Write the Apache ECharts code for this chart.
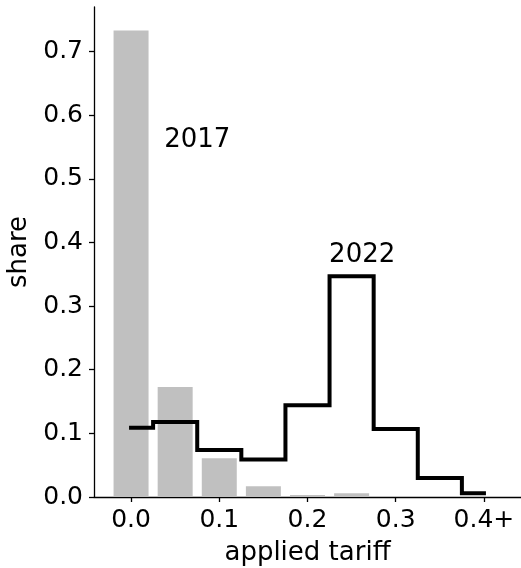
<!DOCTYPE html>
<html>
<head>
<meta charset="utf-8">
<script src="https://cdn.jsdelivr.net/npm/echarts@6/dist/echarts.min.js"></script>
<style>
html,body{margin:0;padding:0;background:#fff;}
#chart{width:521px;height:568px;}
</style>
</head>
<body>
<div id="chart"></div>
<script>
// tariff bins (0.4 = "0.4+")
const binCenters = [0, 0.05, 0.1, 0.15, 0.2, 0.25, 0.3, 0.35, 0.4];
const share2017 = [0.733, 0.173, 0.061, 0.017, 0.003, 0.006, 0, 0, 0];
const share2022 = [0.109, 0.118, 0.074, 0.059, 0.144, 0.347, 0.107, 0.030, 0.006];
const xTickValues = [0, 0.1, 0.2, 0.3, 0.4];
const xTickLabels = ['0.0', '0.1', '0.2', '0.3', '0.4+'];
const yTickValues = [0, 0.1, 0.2, 0.3, 0.4, 0.5, 0.6, 0.7];
const annotationTexts = ['2017', '2022'];
const annotationX = [0.0375, 0.2245];
const annotationY = [0.561, 0.380];

const FONT = 'DejaVu Sans';
const TICK_SIZE = 25;
const NAME_SIZE = 26;
const chart = echarts.init(document.getElementById('chart'), null, {renderer: 'canvas'});

const barData = binCenters.map((x, i) => [x, share2017[i]]);
const lineData = binCenters.map((x, i) => [x, share2022[i]]);

chart.setOption({
  animation: false,
  backgroundColor: '#ffffff',
  grid: {left: 94, right: 0, top: 7, bottom: 71, containLabel: false, outerBoundsMode: 'none'},
  xAxis: {
    type: 'value',
    min: -0.042,
    max: 0.442,
    name: 'applied tariff',
    nameLocation: 'middle',
    nameGap: 43,
    nameTextStyle: {fontFamily: FONT, fontSize: NAME_SIZE, color: '#000'},
    axisLine: {show: true, onZero: false, lineStyle: {color: '#000', width: 1.3}},
    axisTick: {show: true, length: 5, customValues: xTickValues, lineStyle: {color: '#000', width: 1.3}},
    axisLabel: {
      customValues: xTickValues,
      margin: 11,
      fontFamily: FONT, fontSize: TICK_SIZE, color: '#000',
      formatter: v => {
        const idx = xTickValues.findIndex(t => Math.abs(t - v) < 1e-9);
        return idx >= 0 ? xTickLabels[idx] : '';
      }
    },
    splitLine: {show: false}
  },
  yAxis: {
    type: 'value',
    min: 0,
    max: 0.77,
    name: 'share',
    nameLocation: 'middle',
    nameGap: 61,
    nameTextStyle: {fontFamily: FONT, fontSize: NAME_SIZE, color: '#000'},
    axisLine: {show: true, onZero: false, lineStyle: {color: '#000', width: 1.3}},
    axisTick: {show: true, length: 5, customValues: yTickValues, lineStyle: {color: '#000', width: 1.3}},
    axisLabel: {
      customValues: yTickValues,
      margin: 11,
      fontFamily: FONT, fontSize: TICK_SIZE, color: '#000',
      formatter: v => v.toFixed(1)
    },
    splitLine: {show: false}
  },
  series: [
    {
      type: 'bar',
      data: barData,
      barWidth: 35,
      itemStyle: {color: '#c0c0c0'},
      z: 1
    },
    {
      type: 'line',
      data: lineData,
      step: 'middle',
      symbol: 'none',
      lineStyle: {color: '#000', width: 4, cap: 'square', join: 'miter'},
      z: 3
    }
  ]
});

// text annotations placed through the chart's own coordinate conversion
const graphics = annotationTexts.map((t, i) => {
  const p = chart.convertToPixel({gridIndex: 0}, [annotationX[i], annotationY[i]]);
  return {
    type: 'text',
    x: p[0],
    y: p[1],
    z: 10,
    style: {
      text: t,
      fontFamily: FONT,
      fontSize: NAME_SIZE,
      fill: '#000',
      align: 'left',
      verticalAlign: 'middle'
    }
  };
});
chart.setOption({graphic: graphics});
</script>
</body>
</html>
